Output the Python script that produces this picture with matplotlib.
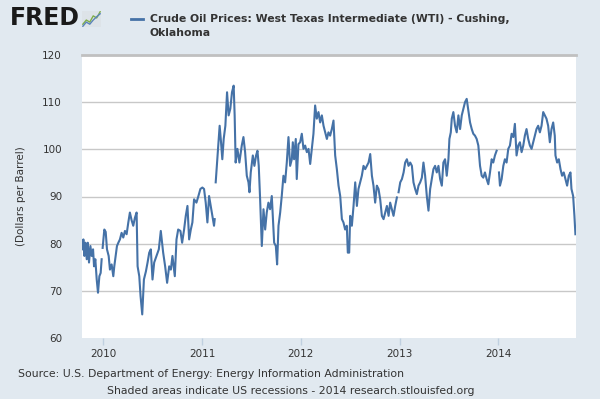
import numpy as np
import matplotlib
matplotlib.use("Agg")
import matplotlib.pyplot as plt

# WTI spot price (x in decimal years, NaN = gap in the series)
years = [
    2009.788, 2009.798, 2009.808, 2009.818, 2009.832, 2009.842, 2009.855, 2009.869,
    2009.882, 2009.896, 2009.906, 2009.919, 2009.933, 2009.946, 2009.960, 2009.973,
    2009.983, 2009.988, 2009.993, 2010.010, 2010.024, 2010.037, 2010.054, 2010.067,
    2010.084, 2010.101, 2010.111, 2010.125, 2010.138, 2010.152, 2010.168, 2010.185,
    2010.202, 2010.219, 2010.236, 2010.253, 2010.269, 2010.286, 2010.303, 2010.320,
    2010.337, 2010.347, 2010.364, 2010.377, 2010.394, 2010.411, 2010.431, 2010.448,
    2010.465, 2010.481, 2010.498, 2010.515, 2010.539, 2010.562, 2010.582, 2010.606,
    2010.626, 2010.646, 2010.667, 2010.684, 2010.700, 2010.724, 2010.741, 2010.758,
    2010.781, 2010.798, 2010.818, 2010.835, 2010.852, 2010.869, 2010.886, 2010.902,
    2010.919, 2010.943, 2010.963, 2010.983, 2011.003, 2011.020, 2011.037, 2011.054,
    2011.071, 2011.088, 2011.104, 2011.121, 2011.128, 2011.133, 2011.138, 2011.152,
    2011.165, 2011.178, 2011.192, 2011.205, 2011.219, 2011.236, 2011.253, 2011.269,
    2011.286, 2011.303, 2011.320, 2011.330, 2011.340, 2011.358, 2011.378, 2011.402,
    2011.419, 2011.436, 2011.453, 2011.470, 2011.480, 2011.493, 2011.514, 2011.530,
    2011.547, 2011.561, 2011.574, 2011.588, 2011.605, 2011.622, 2011.639, 2011.655,
    2011.672, 2011.689, 2011.706, 2011.716, 2011.730, 2011.747, 2011.760, 2011.774,
    2011.791, 2011.807, 2011.824, 2011.841, 2011.858, 2011.875, 2011.892, 2011.909,
    2011.919, 2011.932, 2011.949, 2011.959, 2011.976, 2011.993, 2012.010, 2012.027,
    2012.044, 2012.061, 2012.078, 2012.095, 2012.111, 2012.128, 2012.145, 2012.162,
    2012.179, 2012.196, 2012.213, 2012.230, 2012.247, 2012.264, 2012.280, 2012.297,
    2012.314, 2012.331, 2012.348, 2012.365, 2012.382, 2012.399, 2012.416, 2012.432,
    2012.449, 2012.466, 2012.476, 2012.490, 2012.500, 2012.517, 2012.534, 2012.551,
    2012.568, 2012.584, 2012.601, 2012.618, 2012.635, 2012.652, 2012.669, 2012.686,
    2012.703, 2012.720, 2012.736, 2012.753, 2012.770, 2012.787, 2012.804, 2012.821,
    2012.838, 2012.855, 2012.872, 2012.889, 2012.905, 2012.922, 2012.939, 2012.956,
    2012.973, 2012.982, 2012.990, 2013.007, 2013.024, 2013.041, 2013.057, 2013.074,
    2013.091, 2013.108, 2013.125, 2013.141, 2013.158, 2013.175, 2013.192, 2013.209,
    2013.226, 2013.242, 2013.259, 2013.276, 2013.293, 2013.310, 2013.327, 2013.343,
    2013.360, 2013.377, 2013.394, 2013.411, 2013.428, 2013.444, 2013.461, 2013.478,
    2013.495, 2013.505, 2013.519, 2013.529, 2013.545, 2013.562, 2013.579, 2013.596,
    2013.613, 2013.630, 2013.646, 2013.663, 2013.680, 2013.697, 2013.714, 2013.731,
    2013.747, 2013.764, 2013.781, 2013.798, 2013.815, 2013.832, 2013.848, 2013.865,
    2013.882, 2013.899, 2013.916, 2013.933, 2013.949, 2013.966, 2013.983, 2013.995,
    2014.007, 2014.017, 2014.034, 2014.051, 2014.067, 2014.084, 2014.101, 2014.118,
    2014.135, 2014.152, 2014.168, 2014.185, 2014.202, 2014.219, 2014.236, 2014.253,
    2014.269, 2014.286, 2014.303, 2014.320, 2014.337, 2014.354, 2014.370, 2014.387,
    2014.404, 2014.421, 2014.438, 2014.455, 2014.471, 2014.488, 2014.505, 2014.522,
    2014.539, 2014.556, 2014.572, 2014.579, 2014.596, 2014.613, 2014.630, 2014.646,
    2014.663, 2014.680, 2014.697, 2014.714, 2014.731, 2014.741, 2014.758, 2014.771,
    2014.781,
]
wti_price = [
    78.8, 80.9, 77.4, 80.2, 76.7, 80.2, 76.0, 79.5,
    77.4, 78.8, 75.2, 76.7, 72.4, 69.6, 73.1, 73.8,
    76.7, np.nan, 79.1, 83.0, 82.5, 78.8, 77.4, 74.5,
    75.6, 73.1, 75.2, 77.4, 79.5, 80.2, 80.9, 82.3,
    81.3, 82.7, 82.0, 84.5, 86.6, 85.0, 83.8, 85.5,
    86.6, 75.2, 73.1, 68.9, 65.0, 72.4, 74.1, 76.0,
    78.1, 78.8, 72.4, 76.0, 77.4, 78.8, 82.7, 78.1,
    75.2, 71.7, 75.2, 74.5, 77.4, 73.1, 80.9, 83.0,
    82.7, 80.2, 83.0, 85.9, 88.0, 80.9, 83.0, 84.5,
    89.4, 88.7, 90.1, 91.6, 91.9, 91.6, 88.7, 84.5,
    90.1, 88.0, 85.9, 83.8, 85.2, np.nan, 93.0, 97.2,
    100.8, 105.0, 101.5, 97.9, 102.2, 105.0, 112.1, 107.2,
    108.6, 112.1, 113.5, 107.2, 97.2, 100.1, 97.2, 100.8,
    102.6, 99.4, 94.4, 93.0, 90.9, 95.1, 98.7, 96.5,
    98.7, 99.7, 96.5, 89.4, 79.5, 87.3, 83.0, 86.6,
    88.7, 87.3, 90.1, 85.9, 80.2, 79.5, 75.6, 83.8,
    86.6, 90.1, 94.4, 93.0, 97.2, 102.6, 96.5, 97.9,
    101.5, 97.9, 102.2, 93.7, 101.1, 101.5, 103.3, 100.1,
    100.8, 99.4, 100.1, 96.9, 100.1, 103.3, 109.3, 106.5,
    107.9, 105.7, 107.2, 105.0, 103.6, 102.2, 103.6, 102.9,
    104.3, 106.1, 98.7, 95.8, 92.3, 90.1, 85.2, 84.5,
    83.0, 83.8, 78.1, 78.1, 85.9, 83.8, 88.0, 93.0,
    88.0, 91.6, 93.0, 94.4, 96.5, 95.8, 96.5, 97.2,
    99.0, 94.4, 92.3, 88.7, 92.3, 91.6, 89.4, 85.9,
    85.2, 86.6, 88.0, 85.9, 88.7, 87.3, 85.9, 88.0,
    89.8, np.nan, 90.9, 93.0, 93.7, 95.1, 97.2, 97.9,
    96.5, 97.2, 96.5, 93.0, 91.6, 90.5, 92.3, 93.0,
    94.0, 97.2, 94.4, 90.1, 87.0, 91.6, 93.7, 95.8,
    96.5, 95.1, 96.5, 93.7, 92.3, 97.2, 97.9, 94.4,
    97.9, 102.2, 103.6, 106.5, 107.9, 105.0, 103.6, 107.2,
    104.3, 107.2, 108.6, 110.0, 110.7, 108.2, 105.7, 104.3,
    103.3, 102.9, 102.2, 100.8, 96.5, 94.4, 94.0, 95.1,
    93.7, 92.6, 95.1, 97.9, 97.2, 98.7, 99.7, np.nan,
    95.1, 92.3, 93.7, 96.5, 97.9, 97.2, 100.1, 100.8,
    103.3, 102.6, 105.4, 98.7, 100.8, 101.5, 99.4, 100.8,
    102.9, 104.3, 102.2, 100.8, 100.1, 101.5, 102.9, 104.3,
    105.0, 103.6, 105.0, 107.9, 107.2, 106.5, 105.0, 101.5,
    104.3, 105.7, 102.9, 98.7, 97.2, 97.9, 95.8, 94.4,
    95.1, 93.7, 92.3, 94.4, 95.1, 91.6, 90.1, 85.9,
    82.0,
]

year_ticks = [2010, 2011, 2012, 2013, 2014]
y_ticks = [60, 70, 80, 90, 100, 110, 120]

bg = "#e1e9f0"
line_color = "#4572a7"
text_color = "#333333"

fig = plt.figure(figsize=(6, 3.99), dpi=100, facecolor=bg)
ax = fig.add_axes([82 / 600, 61 / 399, 494 / 600, 283 / 399])
ax.set_facecolor("white")

ax.plot(years, wti_price, color=line_color, linewidth=1.5, solid_joinstyle="round")

ax.set_xlim(2009.784, 2014.787)
ax.set_ylim(60, 120)
ax.set_yticks(y_ticks)
ax.set_xticks(year_ticks)
ax.set_xticklabels([str(y) for y in year_ticks])

for v in y_ticks[1:-1]:
    ax.axhline(v, color="#c8c8c8", linewidth=1, zorder=0)

for s in ["left", "right", "bottom"]:
    ax.spines[s].set_visible(False)
ax.spines["top"].set_color("#c0c0c0")
ax.spines["top"].set_linewidth(2)

ax.tick_params(axis="y", length=0, pad=14.4, labelsize=7.5, labelcolor=text_color)
ax.tick_params(axis="x", length=5, width=1, color="#c0d0e0", pad=3,
               labelsize=7.5, labelcolor=text_color)

ax.set_ylabel("(Dollars per Barrel)", fontsize=7.5, color=text_color, labelpad=12)

# header: logo and legend
fig.text(10 / 600, 1 - 18 / 399, "FRED", fontsize=17, fontweight="black",
         color="#1a1a1a", va="center", ha="left")
icon = fig.add_axes([82 / 600, 1 - 27 / 399, 19 / 600, 16 / 399])
icon.set_facecolor("#dde3e8")
icon.plot([0, 1, 2, 3, 4, 5], [1, 2, 1.5, 3, 2.5, 4], color="#7fae4a", linewidth=1)
icon.plot([0, 1, 2, 3, 4, 5], [0.5, 1.5, 1, 2, 2.8, 3.5], color="#5b84b8", linewidth=1)
icon.set_xticks([])
icon.set_yticks([])
for s in icon.spines.values():
    s.set_visible(False)

fig.add_artist(plt.Line2D([131 / 600, 143 / 600], [1 - 19 / 399, 1 - 19 / 399],
                          color=line_color, linewidth=2))
fig.text(150 / 600, 1 - 19 / 399,
         "Crude Oil Prices: West Texas Intermediate (WTI) - Cushing,",
         fontsize=7.85, fontweight="bold", color=text_color, va="center", ha="left")
fig.text(150 / 600, 1 - 33 / 399, "Oklahoma",
         fontsize=7.85, fontweight="bold", color=text_color, va="center", ha="left")

# footer
fig.text(18 / 600, 1 - 374 / 399,
         "Source: U.S. Department of Energy: Energy Information Administration",
         fontsize=7.8, color=text_color, va="center", ha="left")
fig.text(291 / 600, 1 - 391 / 399,
         "Shaded areas indicate US recessions - 2014 research.stlouisfed.org",
         fontsize=7.8, color=text_color, va="center", ha="center")

fig.savefig("out.png", dpi=100, facecolor=bg)
